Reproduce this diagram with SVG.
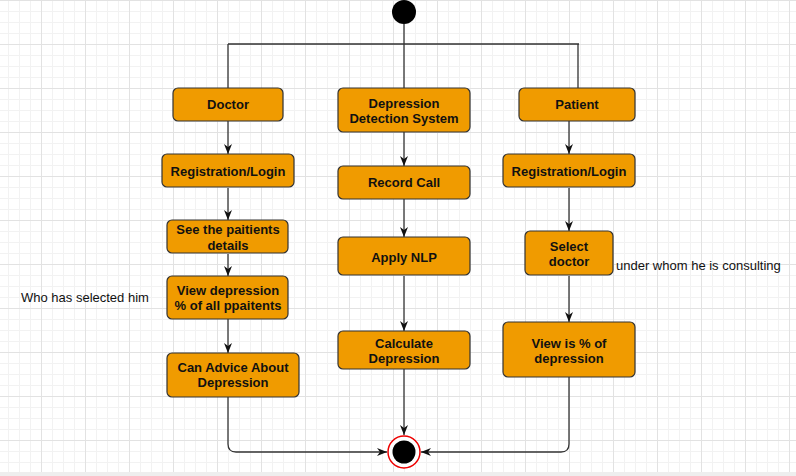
<svg xmlns="http://www.w3.org/2000/svg" width="796" height="476" viewBox="0 0 796 476">
<defs>
<pattern id="grid" x="-3" y="0" width="44" height="44" patternUnits="userSpaceOnUse">
<path d="M11.5,0V44M22.5,0V44M33.5,0V44M0,11.5H44M0,22.5H44M0,33.5H44" stroke="#f2f2f2" stroke-width="1" fill="none"/>
<path d="M0.5,0V44M0,0.5H44" stroke="#e2e2e2" stroke-width="1" fill="none"/>
</pattern>
<marker id="arr" viewBox="0 0 10 8" refX="10" refY="4" markerWidth="10" markerHeight="8" markerUnits="userSpaceOnUse" orient="auto">
<path d="M0,0 L10,4 L0,8 L3,4 Z" fill="#111"/>
</marker>
<style>
.box{fill:#f09b00;stroke:#333;stroke-width:1.2}
.t{font-family:"Liberation Sans",Arial,sans-serif;font-size:13px;font-weight:bold;fill:#111;text-anchor:middle}
.n{font-family:"Liberation Sans",Arial,sans-serif;font-size:13px;fill:#111}
.ln{fill:none;stroke:#333;stroke-width:1.3}
</style>
</defs>
<rect width="796" height="476" fill="#ffffff"/>
<rect width="796" height="472" fill="url(#grid)"/>
<rect x="0" y="472" width="796" height="4" fill="#eeeeee"/>

<g id="connectors">
<path class="ln" d="M404,24V44M228,44H579M228,44V88M404,44V88M578,44V88"/>
<path class="ln" d="M228,121V154" marker-end="url(#arr)"/>
<path class="ln" d="M404,132V166" marker-end="url(#arr)"/>
<path class="ln" d="M569,121V154" marker-end="url(#arr)"/>
<path class="ln" d="M228,188V220" marker-end="url(#arr)"/>
<path class="ln" d="M404,199V237" marker-end="url(#arr)"/>
<path class="ln" d="M569,188V231" marker-end="url(#arr)"/>
<path class="ln" d="M228,254V276" marker-end="url(#arr)"/>
<path class="ln" d="M404,276V331" marker-end="url(#arr)"/>
<path class="ln" d="M569,276V322" marker-end="url(#arr)"/>
<path class="ln" d="M228,319V353" marker-end="url(#arr)"/>
<path class="ln" d="M404,369V435" marker-end="url(#arr)"/>
<path class="ln" d="M228,397V444Q228,452 236,452H387" marker-end="url(#arr)"/>
<path class="ln" d="M569,377V444Q569,452 561,452H421" marker-end="url(#arr)"/>
</g>

<g id="start"><circle cx="404" cy="12" r="12" fill="#000"/></g>

<g id="doctor"><rect class="box" x="173" y="88" width="110" height="33" rx="5"/><text class="t" x="228" y="109">Doctor</text></g>
<g id="dds"><rect class="box" x="338" y="88" width="132" height="44" rx="5"/><text class="t" x="404" y="108">Depression</text><text class="t" x="404" y="123">Detection System</text></g>
<g id="patient"><rect class="box" x="519" y="88" width="116" height="33" rx="5"/><text class="t" x="577" y="109">Patient</text></g>

<g id="doc-reg"><rect class="box" x="162" y="154" width="132" height="33" rx="5"/><text class="t" x="228" y="175.5">Registration/Login</text></g>
<g id="record"><rect class="box" x="338" y="166" width="132" height="33" rx="5"/><text class="t" x="404" y="187">Record Call</text></g>
<g id="pat-reg"><rect class="box" x="503" y="154" width="132" height="33" rx="5"/><text class="t" x="569" y="175.5">Registration/Login</text></g>

<g id="see"><rect class="box" x="167" y="220" width="121" height="33" rx="5"/><text class="t" x="228" y="234">See the paitients</text><text class="t" x="228" y="250">details</text></g>
<g id="nlp"><rect class="box" x="338" y="237" width="132" height="38" rx="5"/><text class="t" x="404" y="262">Apply NLP</text></g>
<g id="select"><rect class="box" x="525" y="231" width="88" height="44" rx="5"/><text class="t" x="569" y="251">Select</text><text class="t" x="569" y="266">doctor</text></g>

<g id="viewdep"><rect class="box" x="167" y="276" width="121" height="43" rx="5"/><text class="t" x="228" y="295">View depression</text><text class="t" x="228" y="310">% of all ppaitents</text></g>
<g id="calc"><rect class="box" x="338" y="331" width="132" height="38" rx="5"/><text class="t" x="404" y="348">Calculate</text><text class="t" x="404" y="363">Depression</text></g>
<g id="viewis"><rect class="box" x="503" y="322" width="132" height="55" rx="5"/><text class="t" x="569" y="348">View is % of</text><text class="t" x="569" y="363">depression</text></g>
<g id="advice"><rect class="box" x="167" y="353" width="132" height="44" rx="5"/><text class="t" x="233" y="372">Can Advice About</text><text class="t" x="233" y="387">Depression</text></g>

<g id="end"><circle cx="404" cy="452" r="16" fill="#fff" stroke="#e00" stroke-width="1.5"/><circle cx="404" cy="452" r="11.5" fill="#000"/></g>

<g id="labels">
<text class="n" x="21" y="302">Who has selected him</text>
<text class="n" x="616" y="270">under whom he is consulting</text>
</g>
</svg>
